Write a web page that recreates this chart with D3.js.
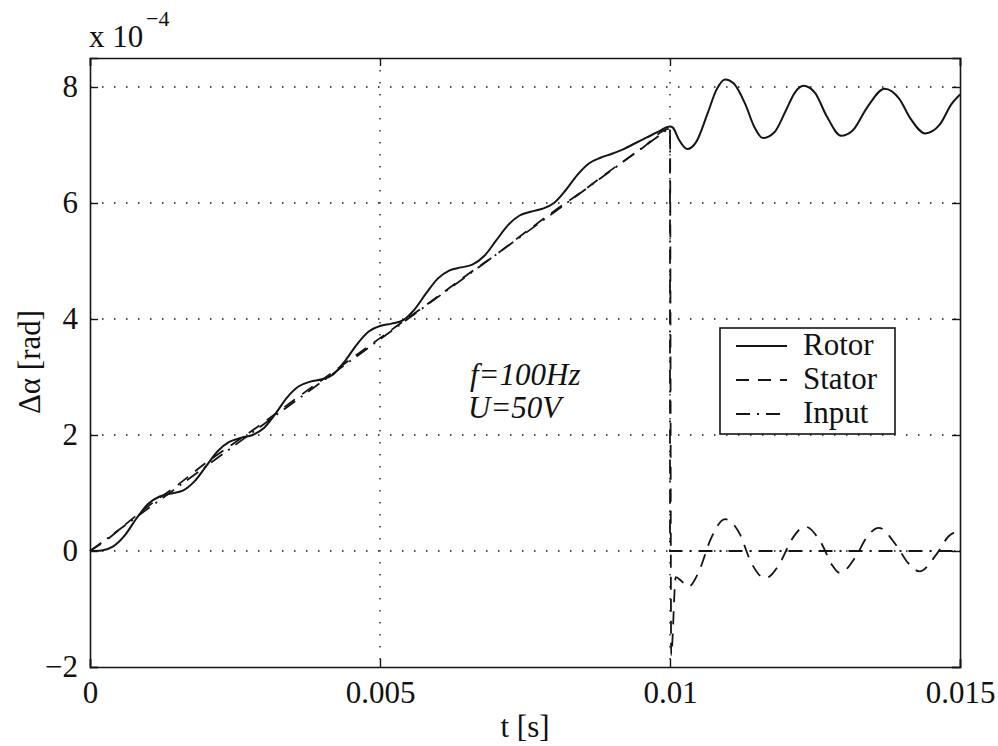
<!DOCTYPE html>
<html>
<head>
<meta charset="utf-8">
<script src="https://cdn.jsdelivr.net/npm/d3@7"></script>
<style>
  html, body { margin: 0; padding: 0; background: #fff; }
  svg { display: block; }
  text { font-family: "Liberation Serif", "Times New Roman", serif; fill: #111; }
</style>
</head>
<body>
<svg id="chart" width="998" height="746"></svg>
<script>
// Time in milliseconds, angle in units of 1e-4 rad
const rotorT = [0,0.2,0.4,0.6,0.8,1.0,1.2,1.4,1.6,1.8,2.0,2.2,2.4,2.6,2.8,3.0,3.2,3.4,3.6,3.8,4.0,4.2,4.4,4.6,4.8,5.0,5.2,5.4,5.6,5.8,6.0,6.2,6.4,6.6,6.8,7.0,7.2,7.4,7.6,7.8,8.0,8.2,8.4,8.6,8.8,9.0,9.2,9.4,9.6,9.8,10.0,
  10.05,10.15,10.3,10.45,10.65,10.8,10.95,11.1,11.3,11.45,11.6,11.8,12.0,12.15,12.3,12.5,12.7,12.95,13.15,13.4,13.7,13.95,14.15,14.4,14.65,14.85,15.0];
const rotorV = [0,0.01,0.08,0.27,0.56,0.81,0.94,0.99,1.04,1.2,1.46,1.72,1.88,1.95,2.0,2.12,2.37,2.65,2.84,2.92,2.96,3.05,3.28,3.56,3.78,3.88,3.92,3.98,4.17,4.45,4.7,4.84,4.89,4.94,5.09,5.35,5.61,5.78,5.85,5.9,6.0,6.22,6.48,6.68,6.78,6.85,6.93,7.03,7.13,7.23,7.32,
  7.3,7.1,6.93,7.05,7.55,7.95,8.13,8.06,7.7,7.32,7.12,7.22,7.6,7.9,8.02,7.9,7.5,7.16,7.25,7.65,7.97,7.8,7.45,7.2,7.35,7.7,7.87];

const statorT = [0,0.3,0.6,1.0,1.5,2.0,2.5,3.0,3.5,4.0,4.5,5.0,5.5,6.0,6.5,7.0,7.5,8.0,8.5,9.0,9.5,10.0,
  10.02,10.1,10.2,10.31,10.5,10.7,10.95,11.2,11.4,11.64,11.9,12.1,12.33,12.6,12.8,12.93,13.2,13.4,13.6,13.9,14.1,14.3,14.6,14.8,15.0];
const statorV = [0,0.2,0.45,0.77,1.13,1.52,1.87,2.22,2.59,2.95,3.31,3.67,4.03,4.39,4.76,5.11,5.49,5.86,6.21,6.58,6.93,7.28,
  -1.8,-0.45,-0.52,-0.62,-0.35,0.2,0.55,0.3,-0.2,-0.47,-0.2,0.2,0.42,0.15,-0.25,-0.38,-0.1,0.25,0.4,0.1,-0.2,-0.35,-0.05,0.25,0.35];

const inputT = [0, 10, 10, 15];
const inputV = [0, 7.3, 0, 0];

const xTicks = [0, 0.005, 0.01, 0.015];
const xTickLabels = ["0", "0.005", "0.01", "0.015"];
const yTicks = [-2, 0, 2, 4, 6, 8];
const yTickLabels = ["\u22122", "0", "2", "4", "6", "8"];

const legendNames = ["Rotor", "Stator", "Input"];
const noteLines = ["f=100Hz", "U=50V"];

const svg = d3.select("#chart");
const m = { left: 90, top: 58, right: 38, bottom: 79 };
const W = 998 - m.left - m.right;
const H = 746 - m.top - m.bottom;
const ink = "#151515";
const fs = 31;

const x = d3.scaleLinear().domain([0, 0.015]).range([0, W]);
const y = d3.scaleLinear().domain([-2, 8.5]).range([H, 0]);

const g = svg.append("g").attr("transform", `translate(${m.left},${m.top})`);

// dotted grid
g.append("g").selectAll("line").data(xTicks.slice(1, -1)).join("line")
  .attr("x1", d => x(d)).attr("x2", d => x(d)).attr("y1", 0).attr("y2", H)
  .attr("stroke", ink).attr("stroke-width", 1.3).attr("stroke-dasharray", "1.5,10.5");
g.append("g").selectAll("line").data(yTicks.slice(1)).join("line")
  .attr("x1", 0).attr("x2", W).attr("y1", d => y(d)).attr("y2", d => y(d))
  .attr("stroke", ink).attr("stroke-width", 1.3).attr("stroke-dasharray", "1.5,10.5");

// axes with inward ticks on all four sides
const axB = d3.axisBottom(x).tickValues(xTicks).tickSize(-8).tickPadding(14)
  .tickFormat((d, i) => xTickLabels[i]);
const axT = d3.axisTop(x).tickValues(xTicks).tickSize(-8).tickFormat("");
const axL = d3.axisLeft(y).tickValues(yTicks).tickSize(-8).tickPadding(12)
  .tickFormat((d, i) => yTickLabels[i]);
const axR = d3.axisRight(y).tickValues(yTicks).tickSize(-8).tickFormat("");

function styleAxis(sel) {
  sel.select(".domain").attr("stroke", ink).attr("stroke-width", 1.6);
  sel.selectAll(".tick line").attr("stroke", ink).attr("stroke-width", 1.4);
  sel.selectAll(".tick text").attr("font-size", fs)
    .attr("font-family", "Liberation Serif, Times New Roman, serif").attr("fill", ink);
}
g.append("g").attr("transform", `translate(0,${H})`).call(axB).call(styleAxis);
g.append("g").call(axT).call(styleAxis);
g.append("g").call(axL).call(styleAxis);
g.append("g").attr("transform", `translate(${W},0)`).call(axR).call(styleAxis);

// curves
const pts = (ts, vs) => ts.map((t, i) => [t / 1000, vs[i]]);
const smooth = d3.line().x(d => x(d[0])).y(d => y(d[1])).curve(d3.curveMonotoneX);
const straight = d3.line().x(d => x(d[0])).y(d => y(d[1]));

g.append("path").attr("d", straight(pts(inputT, inputV)))
  .attr("fill", "none").attr("stroke", ink).attr("stroke-width", 1.8)
  .attr("stroke-dasharray", "14,7,2,7");
g.append("path").attr("d", smooth(pts(statorT, statorV)))
  .attr("fill", "none").attr("stroke", ink).attr("stroke-width", 1.8)
  .attr("stroke-dasharray", "13,9");
g.append("path").attr("d", smooth(pts(rotorT, rotorV)))
  .attr("fill", "none").attr("stroke", ink).attr("stroke-width", 2);

// exponent label
svg.append("text").attr("x", 89).attr("y", 47).attr("font-size", fs).text("x 10");
svg.append("text").attr("x", 146).attr("y", 26).attr("font-size", 22).text("\u22124");

// axis titles
svg.append("text").attr("x", m.left + W / 2).attr("y", 737).attr("text-anchor", "middle")
  .attr("font-size", fs).text("t [s]");
svg.append("text").attr("transform", "translate(40,362) rotate(-90)").attr("text-anchor", "middle")
  .attr("font-size", fs).text("\u0394\u03b1 [rad]");

// annotation
const note = svg.append("text").attr("font-size", fs).attr("font-style", "italic");
note.selectAll("tspan").data(noteLines).join("tspan")
  .attr("x", (d, i) => i === 0 ? 470 : 468).attr("y", (d, i) => 385 + i * 33).text(d => d);

// legend
const lg = svg.append("g").attr("transform", "translate(720,328)");
lg.append("rect").attr("width", 175).attr("height", 106)
  .attr("fill", "#fff").attr("stroke", ink).attr("stroke-width", 1.6);
const dashes = [null, "13,9", "14,7,2,7"];
legendNames.forEach((name, i) => {
  const yy = 27 + i * 34;
  lg.append("line").attr("x1", 16).attr("x2", 67).attr("y1", yy - 9).attr("y2", yy - 9)
    .attr("stroke", ink).attr("stroke-width", 1.8).attr("stroke-dasharray", dashes[i]);
  lg.append("text").attr("x", 83).attr("y", yy).attr("font-size", fs).text(name);
});
</script>
</body>
</html>
